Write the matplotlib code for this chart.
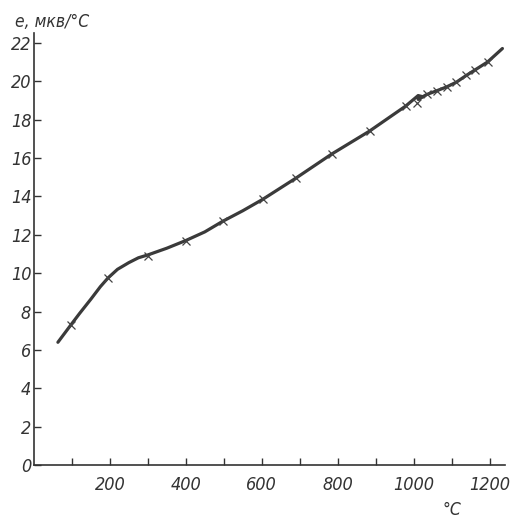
import numpy as np
import matplotlib.pyplot as plt

# curve traced through the measurements
curve_t = [63, 80, 97, 120, 150, 175, 195, 220, 250, 275, 300, 350, 400, 450, 497, 550, 603,
           690, 784, 884, 979, 1000, 1012, 1022, 1012, 1034, 1061, 1087, 1113, 1139, 1163, 1195, 1234]
curve_e = [6.4, 6.85, 7.3, 7.9, 8.65, 9.3, 9.75, 10.2, 10.55, 10.8, 10.95, 11.3, 11.7, 12.15,
           12.7, 13.25, 13.85, 14.95, 16.2, 17.4, 18.7, 19.05, 19.25, 19.2, 19.05, 19.3, 19.5,
           19.7, 19.95, 20.3, 20.6, 21.0, 21.7]

# measured points (crosses)
pts_t = [97, 195, 300, 400, 497, 603, 690, 784, 884, 979, 1010, 1034, 1061, 1087, 1113, 1139, 1163, 1195]
pts_e = [7.3, 9.75, 10.9, 11.7, 12.7, 13.85, 14.95, 16.2, 17.4, 18.7, 18.85, 19.35, 19.5, 19.7, 19.95, 20.3, 20.6, 21.0]

xticks_major = [200, 400, 600, 800, 1000, 1200]
xticks_minor = [100, 300, 500, 700, 900, 1100]
yticks = list(range(0, 23, 2))

plt.rcParams['font.family'] = ['DejaVu Sans']
plt.rcParams['font.style'] = 'italic'
plt.rcParams['font.stretch'] = 'condensed'

fig = plt.figure(figsize=(5.15, 5.18), dpi=100)
ax = fig.add_axes([0.066, 0.102, 0.914, 0.834])

ax.plot(curve_t, curve_e, color='#3a3a3a', lw=2.3, solid_capstyle='round', solid_joinstyle='round')
ax.plot(pts_t, pts_e, ls='none', marker='x', ms=6, mew=0.9, color='#444444')

ax.set_xlim(0, 1240)
ax.set_ylim(0, 22.5)
for s in ['top', 'right']:
    ax.spines[s].set_visible(False)
for s in ['left', 'bottom']:
    ax.spines[s].set_linewidth(1.2)
    ax.spines[s].set_color('#333333')

ax.set_xticks(xticks_major)
ax.set_xticks(xticks_minor, minor=True)
ax.set_xticklabels([str(v) for v in xticks_major])
ax.set_yticks(yticks)
ax.set_yticklabels([str(v) for v in yticks])
ax.tick_params(axis='x', which='both', direction='in', length=5, width=1, pad=8,
               labelsize=13, colors='#333333')
ax.tick_params(axis='y', direction='in', length=5, width=1, pad=2,
               labelsize=13, colors='#333333')

fig.text(0.03, 0.957, 'e, мкв/°C', fontsize=12.5, color='#333333', ha='left', va='center')
fig.text(0.878, 0.016, '°C', fontsize=12.5, color='#333333', ha='center', va='center')

fig.savefig('out.png', dpi=100)
